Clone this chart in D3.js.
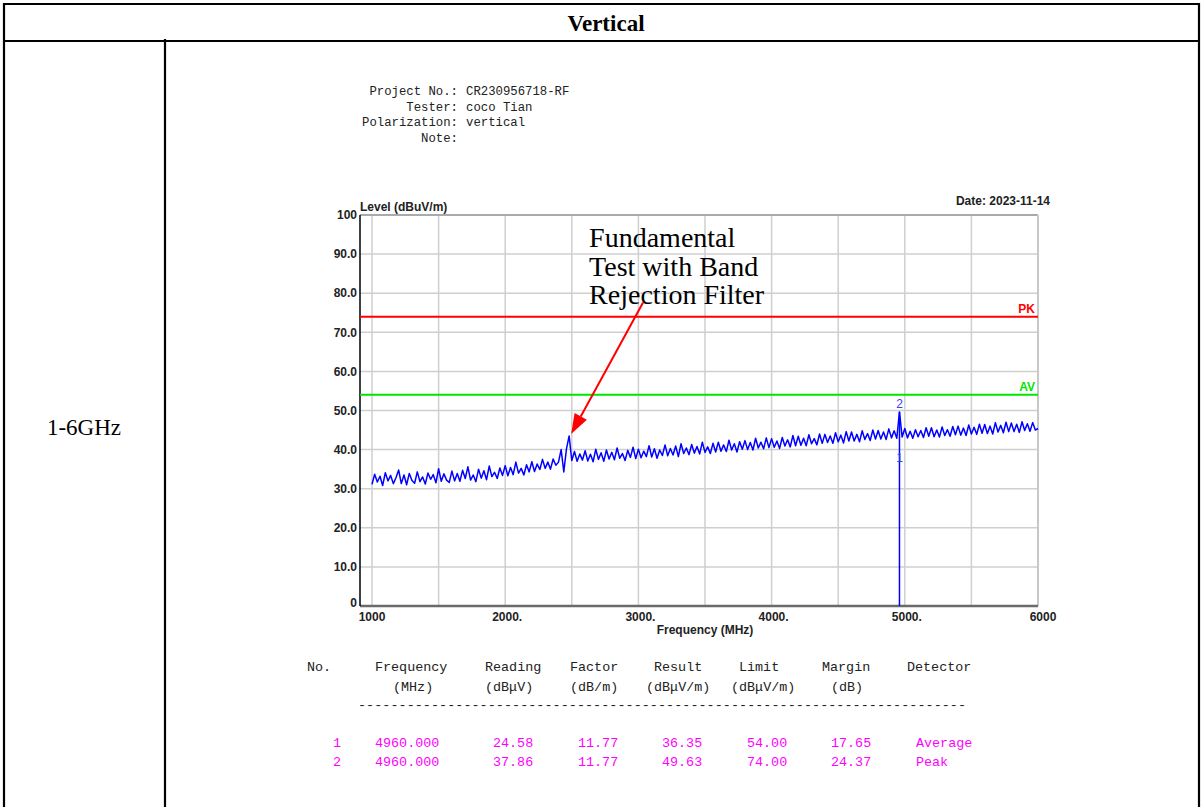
<!DOCTYPE html>
<html>
<head>
<meta charset="utf-8">
<script src="https://cdn.jsdelivr.net/npm/d3@7"></script>
<style>
  html, body { margin: 0; padding: 0; background: #fff; }
  svg { display: block; }
</style>
</head>
<body>
<svg id="chart" width="1203" height="807"></svg>
<script>
// данные графика
const yTicks = [0, 10, 20, 30, 40, 50, 60, 70, 80, 90, 100];
const yTickLabels = ["0", "10.0", "20.0", "30.0", "40.0", "50.0", "60.0", "70.0", "80.0", "90.0", "100"];
const xTicks = [1000, 2000, 3000, 4000, 5000, 6000];
const xTickLabels = ["1000", "2000.", "3000.", "4000.", "5000.", "6000"];
const xGrid = [1000, 1500, 2000, 2500, 3000, 3500, 4000, 4500, 5000, 5500, 6000];

const limitNames = ["PK", "AV"];
const limitLevels = [74, 54];

// уровень трассы, шаг 20 МГц начиная с 1000 МГц
const traceStart = 1000;
const traceStep = 20;
const traceLevels = [
  31.1, 33.7, 31.7, 33.2, 30.8, 34.1, 32.0, 33.4, 31.3, 32.8,
  34.8, 31.3, 33.5, 31.0, 33.9, 32.1, 31.4, 34.3, 31.8, 33.0,
  31.2, 34.0, 32.4, 33.6, 31.5, 35.1, 31.9, 33.8, 32.2, 31.6,
  34.5, 32.0, 33.9, 31.9, 34.7, 32.6, 35.6, 32.2, 33.5, 31.8,
  35.0, 32.7, 34.6, 32.3, 35.8, 33.1, 34.2, 32.6, 35.3, 33.4,
  35.9, 33.3, 35.4, 33.6, 36.8, 34.0, 35.2, 33.5, 36.1, 34.3,
  36.9, 34.4, 36.3, 34.9, 37.5, 35.2, 36.8, 35.0, 37.6, 36.0,
  36.8, 40.0, 34.3, 40.2, 43.5, 37.2, 39.5, 37.0, 38.9, 37.3,
  39.7, 37.1, 38.8, 36.9, 40.1, 37.5, 39.2, 37.0, 39.9, 37.6,
  39.3, 37.4, 40.4, 37.8, 39.0, 37.2, 39.8, 38.0, 40.6, 37.7,
  40.1, 37.9, 39.6, 38.2, 41.0, 38.1, 40.2, 37.8, 39.9, 38.5,
  41.2, 38.4, 40.3, 38.6, 40.9, 38.2, 41.5, 39.0, 40.4, 38.7,
  41.3, 39.1, 40.8, 38.9, 41.9, 39.3, 40.7, 39.0, 41.6, 39.4,
  41.9, 39.6, 41.2, 39.5, 42.4, 39.9, 41.5, 39.4, 42.0, 40.1,
  42.3, 40.0, 41.8, 39.9, 42.9, 40.4, 41.9, 40.2, 43.0, 40.5,
  42.8, 40.6, 42.2, 40.3, 43.1, 40.9, 42.5, 40.7, 43.6, 41.0,
  43.4, 41.1, 42.9, 41.0, 43.8, 41.5, 42.8, 41.2, 44.0, 41.6,
  43.9, 41.8, 43.5, 41.6, 44.3, 42.0, 43.7, 41.7, 44.6, 42.2,
  44.5, 42.2, 43.9, 42.0, 44.8, 42.6, 44.1, 42.3, 45.0, 42.7,
  44.9, 42.7, 44.5, 42.6, 45.3, 43.0, 44.8, 42.9, 49.63, 43.2,
  45.4, 43.0, 44.7, 42.9, 45.1, 43.3, 44.9, 43.1, 45.6, 43.4,
  45.6, 43.3, 45.0, 43.2, 45.8, 43.6, 45.1, 43.4, 45.9, 43.8,
  46.0, 43.7, 45.5, 43.6, 46.3, 44.0, 45.7, 43.9, 46.5, 44.2,
  46.4, 44.1, 46.0, 44.0, 46.9, 44.5, 46.2, 44.3, 47.0, 44.6,
  46.8, 44.6, 46.5, 44.4, 47.1, 44.9, 46.6, 44.7, 46.9, 45.0,
  45.4
];

// маркеры
const markerNo = ["1", "2"];
const markerFreq = [4960.0, 4960.0];
const markerReading = [24.58, 37.86];
const markerFactor = [11.77, 11.77];
const markerResult = [36.35, 49.63];
const markerLimit = [54.00, 74.00];
const markerMargin = [17.65, 24.37];
const markerDetector = ["Average", "Peak"];

const infoLabels = ["Project No.:", "Tester:", "Polarization:", "Note:"];
const infoValues = ["CR230956718-RF", "coco Tian", "vertical", ""];

const tableHead1 = ["No.", "Frequency", "Reading", "Factor", "Result", "Limit", "Margin", "Detector"];
const tableHead2 = ["", "(MHz)", "(dBμV)", "(dB/m)", "(dBμV/m)", "(dBμV/m)", "(dB)", ""];

const noteLines = ["Fundamental", "Test with Band", "Rejection Filter"];
const arrowFrom = [3035, 77.6];
const arrowTo = [2495, 44.0];

const svg = d3.select("#chart");

const attr_area = {
    left: 360,
    x0: 372,
    right: 1038,
    top: 215,
    bottom: 606
};

const scX = d3.scaleLinear().domain([1000, 6000]).range([attr_area.x0, attr_area.right]);
const scY = d3.scaleLinear().domain([0, 100]).range([attr_area.bottom, attr_area.top]);

drawFrame();
drawInfo();
drawPlot();
drawNote();
drawTable();

function drawFrame() {
    const g = svg.append("g").attr("stroke", "#000").attr("stroke-width", 2.2);
    g.append("line").attr("x1", 4).attr("x2", 1199).attr("y1", 4).attr("y2", 4);
    g.append("line").attr("x1", 4).attr("x2", 1199).attr("y1", 41).attr("y2", 41);
    g.append("line").attr("x1", 4).attr("x2", 4).attr("y1", 3).attr("y2", 807);
    g.append("line").attr("x1", 1199).attr("x2", 1199).attr("y1", 3).attr("y2", 807);
    g.append("line").attr("x1", 165).attr("x2", 165).attr("y1", 39).attr("y2", 807);

    svg.append("text")
        .attr("x", 606).attr("y", 31)
        .attr("text-anchor", "middle")
        .style("font", "bold 23px 'Liberation Serif', 'Times New Roman', serif")
        .text("Vertical");

    svg.append("text")
        .attr("x", 84).attr("y", 435)
        .attr("text-anchor", "middle")
        .style("font", "23px 'Liberation Serif', 'Times New Roman', serif")
        .text("1-6GHz");
}

function drawInfo() {
    const g = svg.append("g")
        .style("font", "12.3px 'Liberation Mono', 'DejaVu Sans Mono', monospace")
        .attr("fill", "#222");
    infoLabels.forEach((lab, i) => {
        g.append("text").attr("x", 458).attr("y", 95 + i * 15.5)
            .attr("text-anchor", "end").text(lab);
        g.append("text").attr("x", 466).attr("y", 95 + i * 15.5).text(infoValues[i]);
    });
}

function drawPlot() {
    const bold = "bold 12px 'Liberation Sans', Arial, sans-serif";

    // сетка
    svg.append("g")
        .selectAll("line")
        .data(yTicks.slice(1))
        .enter().append("line")
        .attr("x1", attr_area.left).attr("x2", attr_area.right)
        .attr("y1", d => scY(d)).attr("y2", d => scY(d))
        .attr("stroke", "#cfcfcf").attr("stroke-width", 1.5);

    svg.append("g")
        .selectAll("line")
        .data(xGrid)
        .enter().append("line")
        .attr("x1", d => scX(d)).attr("x2", d => scX(d))
        .attr("y1", attr_area.top).attr("y2", attr_area.bottom)
        .attr("stroke", "#cfcfcf").attr("stroke-width", 1.5);

    // рамка
    svg.append("line")
        .attr("x1", attr_area.left).attr("x2", attr_area.right)
        .attr("y1", attr_area.top).attr("y2", attr_area.top)
        .attr("stroke", "#9a9a9a").attr("stroke-width", 1.5);
    svg.append("line")
        .attr("x1", attr_area.right).attr("x2", attr_area.right)
        .attr("y1", attr_area.top).attr("y2", attr_area.bottom)
        .attr("stroke", "#c8c8c8").attr("stroke-width", 2);
    svg.append("line")
        .attr("x1", attr_area.left).attr("x2", attr_area.right)
        .attr("y1", attr_area.bottom).attr("y2", attr_area.bottom)
        .attr("stroke", "#6a6a6a").attr("stroke-width", 2.5);
    svg.append("line")
        .attr("x1", attr_area.left).attr("x2", attr_area.left)
        .attr("y1", attr_area.top).attr("y2", attr_area.bottom)
        .attr("stroke", "#000").attr("stroke-width", 1.5);

    // подписи осей
    svg.append("g")
        .selectAll("text")
        .data(yTicks)
        .enter().append("text")
        .attr("x", 357).attr("y", d => scY(d) - (d === 0 ? 3 : 0))
        .attr("dy", "0.35em")
        .attr("text-anchor", "end")
        .style("font", bold).attr("fill", "#222")
        .text((d, i) => yTickLabels[i]);

    svg.append("g")
        .selectAll("text")
        .data(xTicks)
        .enter().append("text")
        .attr("x", (d, i) => scX(d) + (i === 0 ? 0 : (i === xTicks.length - 1 ? 5 : 2)))
        .attr("y", attr_area.bottom + 15)
        .attr("text-anchor", "middle")
        .style("font", bold).attr("fill", "#222")
        .text((d, i) => xTickLabels[i]);

    svg.append("text")
        .attr("x", 705).attr("y", 634)
        .attr("text-anchor", "middle")
        .style("font", bold).attr("fill", "#222")
        .text("Frequency (MHz)");

    svg.append("text")
        .attr("x", attr_area.left).attr("y", 211)
        .style("font", bold).attr("fill", "#222")
        .text("Level (dBuV/m)");

    svg.append("text")
        .attr("x", 1050).attr("y", 205)
        .attr("text-anchor", "end")
        .style("font", bold).attr("fill", "#222")
        .text("Date: 2023-11-14");

    // пределы
    const limColors = ["#ff0000", "#00e600"];
    limitLevels.forEach((lv, i) => {
        svg.append("line")
            .attr("x1", attr_area.left).attr("x2", attr_area.right)
            .attr("y1", scY(lv)).attr("y2", scY(lv))
            .attr("stroke", limColors[i]).attr("stroke-width", 2);
        svg.append("text")
            .attr("x", attr_area.right - 3).attr("y", scY(lv) - 4)
            .attr("text-anchor", "end")
            .style("font", bold).attr("fill", limColors[i])
            .text(limitNames[i]);
    });

    // трасса
    const trace = traceLevels.map((v, i) => [traceStart + i * traceStep, v]);
    const lineGen = d3.line().x(d => scX(d[0])).y(d => scY(d[1]));

    svg.append("path")
        .attr("d", lineGen(trace))
        .attr("fill", "none")
        .attr("stroke", "#0000ff")
        .attr("stroke-width", 1.5)
        .attr("stroke-linejoin", "round");

    // маркеры
    svg.append("path")
        .attr("d", lineGen([[markerFreq[0], 0], [markerFreq[1], markerResult[1]]]))
        .attr("stroke", "#0000ff").attr("stroke-width", 1.5);

    svg.append("g")
        .selectAll("text")
        .data(markerNo)
        .enter().append("text")
        .attr("x", (d, i) => scX(markerFreq[i]))
        .attr("y", (d, i) => scY(markerResult[i]) - (i === 0 ? 2 : 4))
        .attr("text-anchor", "middle")
        .style("font", "12px 'Liberation Sans', Arial, sans-serif")
        .attr("fill", "#3a3aff")
        .text(d => d);
}

function drawNote() {
    svg.append("g")
        .selectAll("text")
        .data(noteLines)
        .enter().append("text")
        .attr("x", scX(2630))
        .attr("y", (d, i) => 247 + i * 28.5)
        .style("font", "28px 'Liberation Serif', 'Times New Roman', serif")
        .attr("fill", "#000")
        .text(d => d);

    const x1 = scX(arrowFrom[0]), y1 = scY(arrowFrom[1]);
    const x2 = scX(arrowTo[0]), y2 = scY(arrowTo[1]);
    const ang = Math.atan2(y2 - y1, x2 - x1);
    const len = 20, half = 7;
    const bx = x2 - len * Math.cos(ang), by = y2 - len * Math.sin(ang);

    svg.append("line")
        .attr("x1", x1).attr("y1", y1).attr("x2", bx).attr("y2", by)
        .attr("stroke", "#ff0000").attr("stroke-width", 2);
    svg.append("path")
        .attr("d", `M${x2},${y2}L${bx + half * Math.sin(ang)},${by - half * Math.cos(ang)}L${bx - half * Math.sin(ang)},${by + half * Math.cos(ang)}Z`)
        .attr("fill", "#ff0000");
}

function drawTable() {
    const font = "13.4px 'Liberation Mono', 'DejaVu Sans Mono', monospace";
    const headX = [307, 375, 485, 570, 654, 739, 822, 907];
    const head2X = [0, 393, 485, 570, 646, 731, 831, 0];

    const g = svg.append("g").style("font", font).attr("fill", "#222");
    tableHead1.forEach((t, i) => g.append("text").attr("x", headX[i]).attr("y", 671).text(t));
    tableHead2.forEach((t, i) => {
        if (t) g.append("text").attr("x", head2X[i]).attr("y", 691).text(t);
    });
    g.append("text")
        .attr("x", 358).attr("y", 709)
        .attr("textLength", 608).attr("lengthAdjust", "spacing")
        .text("-".repeat(75));

    const rowX = [333, 375, 493, 578, 662, 747, 831, 916];
    const rows = markerNo.map((n, i) => [
        n,
        markerFreq[i].toFixed(3),
        markerReading[i].toFixed(2),
        markerFactor[i].toFixed(2),
        markerResult[i].toFixed(2),
        markerLimit[i].toFixed(2),
        markerMargin[i].toFixed(2),
        markerDetector[i]
    ]);

    const gr = svg.append("g").style("font", font).attr("fill", "#ff00ff");
    rows.forEach((r, j) => {
        r.forEach((t, i) => gr.append("text").attr("x", rowX[i]).attr("y", 747 + j * 19).text(t));
    });
}
</script>
</body>
</html>
